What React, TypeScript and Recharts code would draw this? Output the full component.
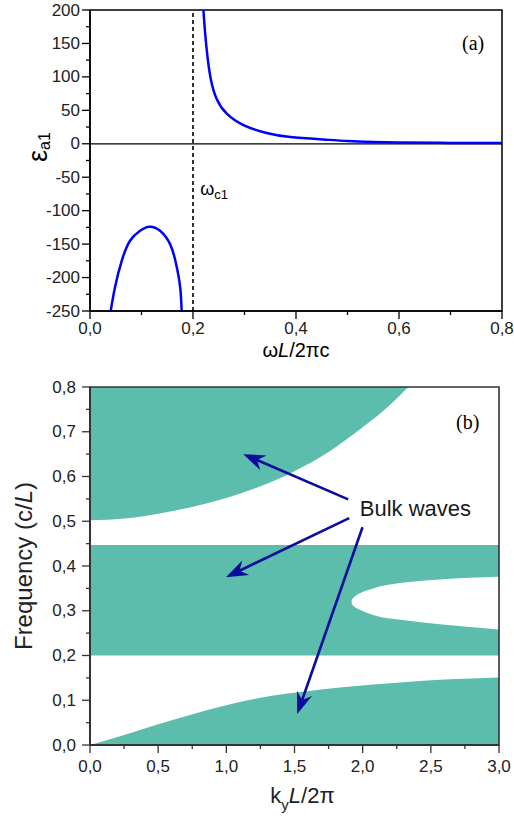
import {
  Area,
  ComposedChart,
  Label,
  Line,
  ReferenceArea,
  ReferenceDot,
  ReferenceLine,
  XAxis,
  YAxis,
} from "recharts";

const SANS = '"Liberation Sans", Arial, sans-serif';
const SERIF = '"Liberation Serif", "Times New Roman", serif';
const BLUE = "#0000ff";
const TEAL = "#5cbdac";
const ARROW = "#0c0c9c";

// ---- panel (a): eps_a1 vs wL/2pic ----
const lowerBranchW = [0.0402, 0.0486, 0.0616, 0.0777, 0.0972, 0.1153, 0.136, 0.1555, 0.167, 0.175, 0.178];
const lowerBranchEps = [-250, -214, -175, -145, -130, -124, -130, -150, -179, -214, -250];
const upperBranchW = [0.2202, 0.2235, 0.228, 0.2345, 0.246, 0.2656, 0.298, 0.343, 0.389, 0.453, 0.5, 0.55, 0.6, 0.7, 0.8];
const upperBranchEps = [200, 166, 131, 97, 67, 45, 28, 16, 10, 6.4, 4.2, 2.8, 2, 1.3, 1];
const omegaC1 = 0.2;
const omegaTicks = [0, 0.1, 0.2, 0.3, 0.4, 0.5, 0.6, 0.7, 0.8];
const epsTicks = [-250, -225, -200, -175, -150, -125, -100, -75, -50, -25, 0, 25, 50, 75, 100, 125, 150, 175, 200];

// ---- panel (b): band diagram ----
const upperBandK = [0, 0.25, 0.5, 0.75, 1.0, 1.25, 1.5, 1.75, 2.0, 2.2, 2.334];
const upperBandLow = [0.502, 0.506, 0.517, 0.532, 0.552, 0.578, 0.612, 0.655, 0.71, 0.76, 0.8];
const middleBandK = [0, 3];
const middleBandLow = [0.2, 0.2];
const middleBandHigh = [0.447, 0.447];
const holeK = [1.918, 1.923, 1.938, 1.979, 2.077, 2.322, 2.566, 3.0];
const holeLow = [0.32, 0.3147, 0.3093, 0.302, 0.2905, 0.278, 0.2697, 0.258];
const holeHigh = [0.32, 0.3253, 0.3307, 0.339, 0.35, 0.3635, 0.37, 0.376];
const lowerBandK = [0, 0.244, 0.489, 0.733, 0.978, 1.222, 1.466, 1.711, 1.955, 2.2, 2.444, 2.688, 3.0];
const lowerBandHigh = [0, 0.022, 0.045, 0.067, 0.087, 0.104, 0.1155, 0.1245, 0.132, 0.138, 0.1437, 0.1475, 0.151];
const arrowTailK = [1.894, 1.901, 1.999];
const arrowTailF = [0.549, 0.507, 0.4865];
const arrowTipK = [1.124, 0.997, 1.52];
const arrowTipF = [0.65, 0.375, 0.069];
const kTicks = [0, 0.25, 0.5, 0.75, 1, 1.25, 1.5, 1.75, 2, 2.25, 2.5, 2.75, 3];
const freqTicks = [0, 0.05, 0.1, 0.15, 0.2, 0.25, 0.3, 0.35, 0.4, 0.45, 0.5, 0.55, 0.6, 0.65, 0.7, 0.75, 0.8];

const fBand = 0.8;

const lowerBranch = lowerBranchW.map((w, i) => ({ w, eps: lowerBranchEps[i] }));
const upperBranch = upperBranchW.map((w, i) => ({ w, eps: upperBranchEps[i] }));
const upperBand = upperBandK.map((k, i) => ({ k, f: [upperBandLow[i], fBand] }));
const middleBand = middleBandK.map((k, i) => ({ k, f: [middleBandLow[i], middleBandHigh[i]] }));
const hole = holeK.map((k, i) => ({ k, f: [holeLow[i], holeHigh[i]] }));
const lowerBand = lowerBandK.map((k, i) => ({ k, f: [0, lowerBandHigh[i]] }));

const comma = (v: number) => v.toFixed(1).replace(".", ",");

function tickRenderer(opts: {
  side: "left" | "bottom";
  isMajor: (v: number) => boolean;
  fmt: (v: number) => string;
  gap: number;
  color: string;
}) {
  return (props: any) => {
    const { x, y, payload } = props;
    const v = payload.value as number;
    const major = opts.isMajor(v);
    const len = major ? 8 : 4;
    if (opts.side === "bottom") {
      return (
        <g>
          <line x1={x} y1={y} x2={x} y2={y + len} stroke={opts.color} strokeWidth={1.3} />
          {major && (
            <text x={x} y={y + opts.gap} textAnchor="middle" dominantBaseline="central" fontFamily={SANS} fontSize={17} fill="#222">
              {opts.fmt(v)}
            </text>
          )}
        </g>
      );
    }
    return (
      <g>
        <line x1={x} y1={y} x2={x - len} y2={y} stroke={opts.color} strokeWidth={1.3} />
        {major && (
          <text x={x - opts.gap} y={y} textAnchor="end" dominantBaseline="central" fontFamily={SANS} fontSize={17} fill="#222">
            {opts.fmt(v)}
          </text>
        )}
      </g>
    );
  };
}

function arrowShape(props: any) {
  const { x1, y1, x2, y2 } = props;
  const dx = x2 - x1;
  const dy = y2 - y1;
  const d = Math.hypot(dx, dy) || 1;
  const ux = dx / d;
  const uy = dy / d;
  const nx = -uy;
  const ny = ux;
  const L = 22;
  const W = 8;
  const notch = 15;
  const bx = x2 - ux * L;
  const by = y2 - uy * L;
  const mx = x2 - ux * notch;
  const my = y2 - uy * notch;
  return (
    <g>
      <line x1={x1} y1={y1} x2={mx} y2={my} stroke={ARROW} strokeWidth={2.6} />
      <polygon
        points={`${x2},${y2} ${bx + nx * W},${by + ny * W} ${mx},${my} ${bx - nx * W},${by - ny * W}`}
        fill={ARROW}
      />
    </g>
  );
}

const EpsTitle = (p: any) => {
  const { x, y } = p.viewBox;
  const cx = x + 38;
  const cy = y + 137;
  return (
    <text transform={`rotate(-90 ${cx} ${cy})`} x={cx} y={cy} textAnchor="middle" dominantBaseline="central" fontFamily={SANS} fill="#000">
      <tspan fontSize={27}>ε</tspan>
      <tspan fontSize={16} dy={6}>a1</tspan>
    </text>
  );
};

const OmegaTitle = (p: any) => {
  const { x, y, width } = p.viewBox;
  return (
    <text x={x + width / 2} y={y + 46} textAnchor="middle" fontFamily={SANS} fontSize={20} fill="#000">
      ω<tspan fontStyle="italic">L</tspan>/2πc
    </text>
  );
};

const FreqTitle = (p: any) => {
  const { x, y, height } = p.viewBox;
  const cx = x + 23;
  const cy = y + height / 2;
  return (
    <text transform={`rotate(-90 ${cx} ${cy})`} x={cx} y={cy} textAnchor="middle" dominantBaseline="central" fontFamily={SANS} fontSize={24} fill="#222">
      Frequency (c/<tspan fontStyle="italic">L</tspan>)
    </text>
  );
};

const KTitle = (p: any) => {
  const { x, y, width } = p.viewBox;
  return (
    <text x={x + width / 2 + 8} y={y + 58} textAnchor="middle" fontFamily={SANS} fontSize={22} fill="#222">
      k<tspan fontSize={15} dy={7}>y</tspan>
      <tspan fontStyle="italic" dy={-7}>L</tspan>/2π
    </text>
  );
};

function PanelA() {
  return (
    <ComposedChart width={514} height={370} margin={{ top: 10, right: 12, bottom: 0, left: 0 }}>
      <ReferenceLine y={0} stroke="#000" strokeWidth={1.2} />
      <ReferenceLine x={omegaC1} stroke="#000" strokeWidth={1.6} strokeDasharray="4 3" />
      <Line data={lowerBranch} dataKey="eps" type="natural" stroke={BLUE} strokeWidth={2.5} dot={false} isAnimationActive={false} />
      <Line data={upperBranch} dataKey="eps" type="natural" stroke={BLUE} strokeWidth={2.5} dot={false} isAnimationActive={false} />
      <ReferenceDot
        x={omegaC1 + 0.014}
        y={-68}
        r={0}
        shape={(p: any) => (
          <text x={p.cx} y={p.cy} dominantBaseline="central" fontFamily={SANS} fontSize={18} fill="#000">
            ω<tspan fontSize={13} dy={5}>c1</tspan>
          </text>
        )}
      />
      <ReferenceDot
        x={0.744}
        y={151}
        r={0}
        shape={(p: any) => (
          <text x={p.cx} y={p.cy} textAnchor="middle" dominantBaseline="central" fontFamily={SERIF} fontSize={20} fill="#000">
            (a)
          </text>
        )}
      />
      <ReferenceArea x1={0} x2={0.8} y1={-250} y2={200} fill="none" stroke="#000" strokeWidth={1.5} />
      <XAxis
        dataKey="w"
        type="number"
        domain={[0, 0.8]}
        ticks={omegaTicks}
        interval={0}
        allowDataOverflow
        height={59}
        tickSize={0}
        tickMargin={0}
        tickLine={false}
        axisLine={{ stroke: "#000", strokeWidth: 1.5 }}
        tick={tickRenderer({ side: "bottom", isMajor: (v) => Math.round(v * 10) % 2 === 0, fmt: comma, gap: 17, color: "#000" })}
      >
        <Label content={OmegaTitle} />
      </XAxis>
      <YAxis
        type="number"
        domain={[-250, 200]}
        ticks={epsTicks}
        interval={0}
        allowDataOverflow
        width={90}
        tickSize={0}
        tickMargin={0}
        tickLine={false}
        axisLine={{ stroke: "#000", strokeWidth: 1.5 }}
        tick={tickRenderer({ side: "left", isMajor: (v) => v % 50 === 0, fmt: (v) => String(v), gap: 10, color: "#000" })}
      >
        <Label content={EpsTitle} />
      </YAxis>
    </ComposedChart>
  );
}

function PanelB() {
  return (
    <ComposedChart width={514} height={452} margin={{ top: 17, right: 15, bottom: 0, left: 0 }}>
      <Area data={upperBand} dataKey="f" type="monotone" fill={TEAL} fillOpacity={1} stroke="none" isAnimationActive={false} />
      <Area data={middleBand} dataKey="f" type="linear" fill={TEAL} fillOpacity={1} stroke="none" isAnimationActive={false} />
      <Area data={hole} dataKey="f" type="monotone" fill="#ffffff" fillOpacity={1} stroke="none" isAnimationActive={false} />
      <Area data={lowerBand} dataKey="f" type="monotone" fill={TEAL} fillOpacity={1} stroke="none" isAnimationActive={false} />
      {arrowTailK.map((k, i) => (
        <ReferenceLine
          key={i}
          segment={[
            { x: k, y: arrowTailF[i] },
            { x: arrowTipK[i], y: arrowTipF[i] },
          ]}
          shape={arrowShape}
        />
      ))}
      <ReferenceDot
        x={1.979}
        y={0.5296}
        r={0}
        shape={(p: any) => (
          <text x={p.cx} y={p.cy} dominantBaseline="central" fontFamily={SANS} fontSize={22} fill="#1a1a1a">
            Bulk waves
          </text>
        )}
      />
      <ReferenceDot
        x={2.771}
        y={0.722}
        r={0}
        shape={(p: any) => (
          <text x={p.cx} y={p.cy} textAnchor="middle" dominantBaseline="central" fontFamily={SERIF} fontSize={20} fill="#000">
            (b)
          </text>
        )}
      />
      <ReferenceArea x1={0} x2={3} y1={0} y2={0.8} fill="none" stroke="#333" strokeWidth={1.6} />
      <XAxis
        dataKey="k"
        type="number"
        domain={[0, 3]}
        ticks={kTicks}
        interval={0}
        allowDataOverflow
        height={77}
        tickSize={0}
        tickMargin={0}
        tickLine={false}
        axisLine={{ stroke: "#333", strokeWidth: 2 }}
        tick={tickRenderer({ side: "bottom", isMajor: (v) => Number.isInteger(v * 2), fmt: comma, gap: 21, color: "#333" })}
      >
        <Label content={KTitle} />
      </XAxis>
      <YAxis
        type="number"
        domain={[0, 0.8]}
        ticks={freqTicks}
        interval={0}
        allowDataOverflow
        width={90}
        tickSize={0}
        tickMargin={0}
        tickLine={false}
        axisLine={{ stroke: "#333", strokeWidth: 2 }}
        tick={tickRenderer({ side: "left", isMajor: (v) => Math.abs(v * 10 - Math.round(v * 10)) < 1e-6, fmt: comma, gap: 14, color: "#333" })}
      >
        <Label content={FreqTitle} />
      </YAxis>
    </ComposedChart>
  );
}

export default function App() {
  return (
    <div style={{ position: "absolute", left: 0, top: 0, width: 514, height: 822, background: "#fff" }}>
      <div style={{ position: "absolute", left: 0, top: 0 }}>
        <PanelA />
      </div>
      <div style={{ position: "absolute", left: 0, top: 370 }}>
        <PanelB />
      </div>
    </div>
  );
}
